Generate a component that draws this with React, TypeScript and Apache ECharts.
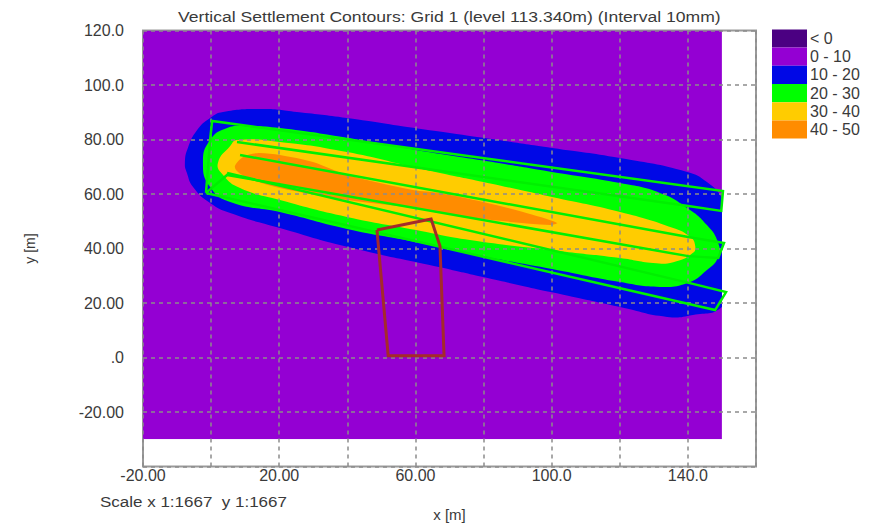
import React, { useEffect, useRef } from "react";
import * as echarts from "echarts";

type Pt = [number, number];

const titleText = "Vertical Settlement Contours: Grid 1 (level 113.340m) (Interval 10mm)";
const scaleText = "Scale x 1:1667  y 1:1667";
const xAxisName = "x [m]";
const yAxisName = "y [m]";
const xTickLabels: Record<string, string> = { "-20": "-20.00", "20": "20.00", "60": "60.00", "100": "100.0", "140": "140.0" };
const yTickLabels: Record<string, string> = { "120": "120.0", "100": "100.0", "80": "80.00", "60": "60.00", "40": "40.00", "20": "20.00", "0": ".0", "-20": "-20.00" };

const bandNames = ["< 0", "0 - 10", "10 - 20", "20 - 30", "30 - 40", "40 - 50"];
const bandColors = ["#4b0082", "#9400d3", "#0008e6", "#00ff00", "#ffcc00", "#ff8c00"];
const bandSmooth = [0, 0, 0.5, 0.5, 0.5, 0.3];

const band0: Pt[] = [];
const band10: Pt[] = [[-20, -30], [150, -30], [150, 120], [-20, 120]];
const band20: Pt[] = [
  [-7.7, 71.4], [-6.8, 77], [-4.1, 83.5], [-0.3, 87.9], [3.5, 90.1], [15.2, 91.2], [25.2, 90.1], [39.9, 87.9], [59.3, 84.3],
  [79.9, 80.6], [100.1, 76.9], [120.1, 73.2], [139.8, 68.1], [145.6, 64.4], [150, 58.5], [155, 45], [155, 30], [150, 18.5], [141.5, 15.6],
  [133.9, 14.9], [120.1, 18.5], [100.1, 23.9], [79.9, 29.5], [67.2, 33.1], [39.9, 40.6], [20.2, 47.5], [5.6, 53.0],
  [-0.3, 56.7], [-5.3, 62.6], [-7.1, 67.7],
];
const band30: Pt[] = [
  [-2.4, 71.4], [-0.3, 79.8], [4.7, 84.2], [10.5, 84.9], [20.2, 84.2], [39.9, 80.6], [60.5, 76.1],
  [79.9, 72.3], [100.1, 68.1], [120.1, 64.0], [131.8, 60.4], [139.8, 54.9], [145.6, 48.6], [148.9, 42.0], [148.9, 36.9],
  [145.6, 32.1], [139.8, 27.3], [131.8, 25.9], [120.1, 27.7], [100.1, 32.5], [79.9, 37.2], [60.2, 42.4], [39.9, 47.2],
  [20.2, 53.4], [5.6, 57.1], [-0.3, 62.6],
];
const band40: Pt[] = [
  [2.0, 71.4], [5.6, 77.6], [7.6, 79.8], [20.2, 79.1], [39.9, 75.4], [59.3, 69.9], [67.2, 67.7], [79.9, 64.4],
  [100.1, 58.9], [120.1, 53.4], [135.7, 47.5], [140.7, 44.2], [142.1, 41.3], [141.5, 38.4], [135.7, 35.0], [129.8, 34.7],
  [120.1, 36.5], [100.1, 39.4], [76.0, 43.1], [60.2, 46.8], [39.9, 51.6], [20.2, 57.8], [8.5, 62.2], [3.5, 67.0],
];
const band50: Pt[] = [
  [7.0, 70.3], [9.4, 73.6], [13.5, 75.0], [20.2, 74.3], [29.9, 71.7], [39.9, 67.0], [59.3, 61.5], [67.2, 60.4],
  [79.9, 57.1], [91.6, 53.4], [101.6, 49.4], [99.5, 48.6], [79.9, 50.8], [67.2, 53.0], [59.3, 54.9], [39.9, 57.8],
  [20.2, 62.2], [10.5, 65.9], [7.6, 68.4],
];
const bands = [band0, band10, band20, band30, band40, band50];

const outlineUpper: Pt[] = [[-1.5, 60.4], [-0.3, 79.8], [0.3, 86.8], [150.3, 61.1], [149.8, 53.8], [140.1, 55.6], [7.6, 79.1]];
const outlineMiddle: Pt[] = [[8.5, 74.3], [140.1, 44.2], [150.6, 42.0], [148.9, 36.5], [140.1, 37.2], [4.7, 67.0], [-1.5, 60.4]];
const outlineLower: Pt[] = [[-1.5, 60.4], [148.0, 17.4], [151.2, 24.0], [140.6, 27.3], [4.7, 67.7]];
const outlines = [outlineUpper, outlineMiddle, outlineLower];
const outlineColor = "#00f000";

const footprint: Pt[] = [[48.7, 46.8], [64.6, 50.8], [67.2, 40.9], [68.4, 0.6], [52.0, 0.6], [48.7, 46.8]];
const footprintColor = "#a52a2a";

const fieldMin: Pt = [-20, -30];
const fieldMax: Pt = [150, 120];

const FONT = "'Liberation Sans', Arial, sans-serif";
const TEXT = "#3a3a3a";

function areaSeries(name: string, color: string, pts: Pt[], smooth: number) {
  return {
    type: "custom",
    name,
    z: 2,
    silent: true,
    data: pts,
    encode: { x: 0, y: 1 },
    itemStyle: { color },
    renderItem: (params: any, api: any) => {
      if (params.dataIndex !== 0) return null;
      const a = api.coord(fieldMin);
      const b = api.coord(fieldMax);
      return {
        type: "polygon",
        shape: { points: pts.map((p) => api.coord(p)), smooth },
        style: { fill: color, stroke: null },
        clipPath: { type: "rect", shape: { x: a[0], y: b[1], width: b[0] - a[0], height: a[1] - b[1] } },
      };
    },
  };
}

function lineSeries(name: string, color: string, pts: Pt[], width: number) {
  return {
    type: "custom",
    name,
    z: 6,
    silent: true,
    data: pts,
    encode: { x: 0, y: 1 },
    renderItem: (params: any, api: any) => {
      if (params.dataIndex !== 0) return null;
      return {
        type: "polyline",
        shape: { points: pts.map((p) => api.coord(p)) },
        style: { fill: null, stroke: color, lineWidth: width, lineJoin: "miter" },
      };
    },
  };
}

const gridLine = { show: true, lineStyle: { color: "#8c8c8c", type: [4, 4] as number[], width: 1.5 } };

export default function App() {
  const ref = useRef<HTMLDivElement>(null);
  useEffect(() => {
    const chart = echarts.init(ref.current!, undefined, { renderer: "svg" });
    chart.setOption({
      animation: false,
      backgroundColor: "#ffffff",
      grid: {
        left: 143,
        right: 123,
        top: 30.5,
        bottom: 56.5,
        outerBoundsMode: "none",
        show: true,
        borderColor: "#9a9a9a",
        borderWidth: 2,
        backgroundColor: "#ffffff",
      },
      legend: {
        orient: "vertical",
        left: 772,
        top: 24.5,
        padding: 0,
        itemGap: -9.8,
        itemWidth: 35,
        itemHeight: 18.2,
        icon: "rect",
        selectedMode: false,
        data: bandNames,
        textStyle: { fontFamily: FONT, fontSize: 16, lineHeight: 18, color: TEXT, padding: [0, 0, 10, -2] },
      },
      xAxis: {
        type: "value",
        min: -20,
        max: 160,
        interval: 20,
        z: 4,
        name: xAxisName,
        nameLocation: "middle",
        nameGap: 40,
        nameTextStyle: { fontFamily: FONT, fontSize: 15, color: TEXT },
        axisLine: { show: false },
        axisTick: { show: false },
        splitLine: gridLine,
        axisLabel: {
          margin: 1,
          showMaxLabel: true,
          showMinLabel: true,
          hideOverlap: false,
          fontFamily: FONT,
          fontSize: 16,
          color: TEXT,
          formatter: (v: number) => xTickLabels[String(v)] ?? "",
        },
      },
      yAxis: {
        type: "value",
        min: -40,
        max: 120,
        interval: 20,
        z: 4,
        name: yAxisName,
        nameLocation: "middle",
        nameGap: 106,
        nameTextStyle: { fontFamily: FONT, fontSize: 14, color: TEXT },
        axisLine: { show: false },
        axisTick: { show: false },
        splitLine: gridLine,
        axisLabel: {
          margin: 19,
          padding: [8, 0, 0, 0],
          showMaxLabel: true,
          showMinLabel: true,
          hideOverlap: false,
          fontFamily: FONT,
          fontSize: 16,
          color: TEXT,
          formatter: (v: number) => yTickLabels[String(v)] ?? "",
        },
      },
      graphic: [
        {
          type: "text",
          x: 178,
          y: 9,
          scaleX: 1.173,
          style: { text: titleText, fontFamily: FONT, fontSize: 15, fill: TEXT },
        },
        {
          type: "text",
          x: 100,
          y: 494,
          scaleX: 1.133,
          style: { text: scaleText, fontFamily: FONT, fontSize: 15, fill: TEXT },
        },
      ],
      series: [
        ...bandNames.map((n, i) => areaSeries(n, bandColors[i], bands[i], bandSmooth[i])),
        ...outlines.map((pts, i) => lineSeries("structure " + (i + 1), outlineColor, pts, 2.5)),
        lineSeries("footprint", footprintColor, footprint, 3),
      ],
    });
    return () => chart.dispose();
  }, []);
  return <div ref={ref} style={{ position: "absolute", left: 0, top: 0, width: 879, height: 523 }} />;
}
